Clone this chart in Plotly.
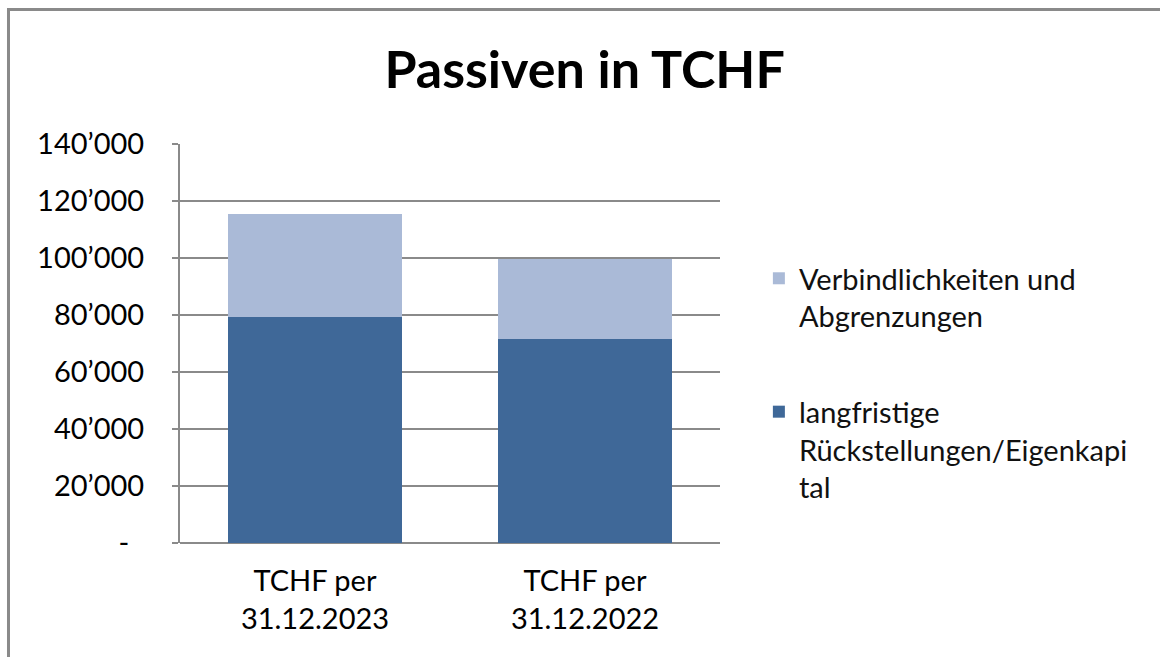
import plotly.graph_objects as go

categories = ["TCHF per<br>31.12.2023", "TCHF per<br>31.12.2022"]
langfristig = [79200, 71700]
verbindlich = [36100, 28000]
series_names = ["langfristige<br>Rückstellungen/Eigenkapi<br>tal", "Verbindlichkeiten und<br>Abgrenzungen"]
tick_vals = [0, 20000, 40000, 60000, 80000, 100000, 120000, 140000]
tick_text = ["-\u00a0\u00a0", "20’000", "40’000", "60’000", "80’000", "100’000", "120’000", "140’000"]

FONT = "Lato"
FS = 29
GRID = "#8A8A8A"
fig = go.Figure()
fig.add_trace(go.Bar(x=categories, y=langfristig, name=series_names[0],
                     marker=dict(color="#3F6898", line=dict(width=0)),
                     legendgroup="a", legendrank=2))
fig.add_trace(go.Bar(x=categories, y=verbindlich, name=series_names[1],
                     marker=dict(color="#AABAD7", line=dict(width=0)),
                     legendgroup="b", legendrank=1))

fig.update_layout(
    width=1160, height=657,
    barmode="stack", bargap=0.355,
    paper_bgcolor="white", plot_bgcolor="white",
    margin=dict(l=180, r=440, t=144, b=114),
    title=dict(text="<b>Passiven in TCHF</b>", x=0.504, xanchor="center", y=0.893, yanchor="middle",
               font=dict(family=FONT, size=52, color="black")),
    font=dict(family=FONT, size=FS, color="black"),
    legend=dict(x=1.072, xanchor="left", y=0.727, yanchor="top", traceorder="grouped",
                tracegroupgap=55, valign="top",
                font=dict(family=FONT, size=FS, color="#111"),
                itemwidth=30, bgcolor="rgba(0,0,0,0)"),
    showlegend=True,
    xaxis=dict(showline=False, ticks="", showgrid=False,
               tickfont=dict(size=FS, family=FONT), ticklabelstandoff=18),
    yaxis=dict(range=[0, 140000], tickvals=tick_vals, ticktext=tick_text,
               showgrid=True, gridcolor=GRID, gridwidth=2,
               showline=True, linecolor=GRID, linewidth=2,
               ticks="outside", ticklen=6, tickcolor=GRID, tickwidth=2,
               zeroline=True, zerolinecolor=GRID, zerolinewidth=2,
               tickfont=dict(size=FS, family=FONT), ticklabelstandoff=22),
    shapes=[dict(type="rect", xref="paper", yref="paper", x0=-0.3176, x1=1.833, y0=-0.318, y1=1.337,
                 line=dict(color=GRID, width=3), fillcolor="rgba(0,0,0,0)", layer="below")],
)
fig.write_html("out.html", config={"displayModeBar": False},
               post_script="document.body.style.margin='0';")
